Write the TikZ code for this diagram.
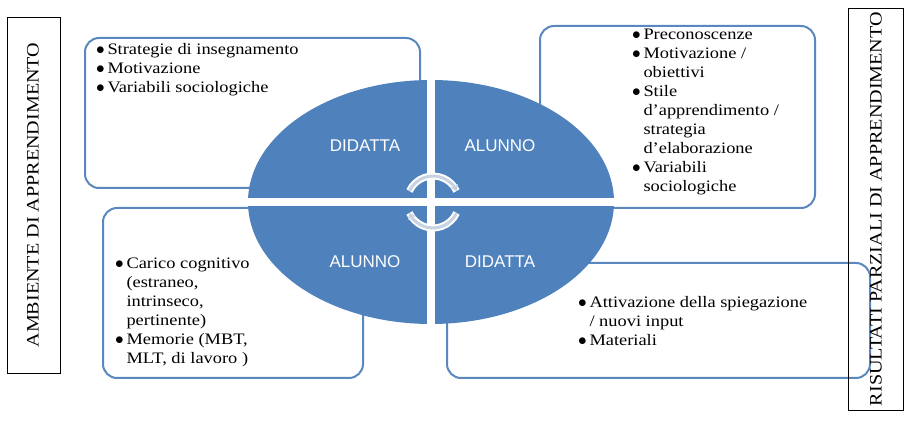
\documentclass[tikz,border=0pt]{standalone}
\usepackage{fontspec}
\setmainfont{Liberation Serif}[FakeStretch=1.15]
\newfontfamily\lab{Liberation Sans}
\usetikzlibrary{arrows.meta}
\definecolor{bl}{RGB}{79,129,189}
\definecolor{bd}{RGB}{90,135,190}
\begin{document}
\begin{tikzpicture}[x=1pt,y=-1pt,
  rbox/.style={draw=bd,line width=2pt,rounded corners=14pt,fill=white},
  txt/.style={anchor=north west,align=left,font=\fontsize{16}{19}\selectfont,inner sep=0pt},
  vlab/.style={rotate=90,font=\fontsize{17.5}{19}\selectfont},
  qlab/.style={text=white,font=\lab\fontsize{17}{19}\selectfont}]
\useasboundingbox (0,0) rectangle (919,430);
\draw[rbox] (85,38) rectangle (420,188);
\draw[rbox] (540,26) rectangle (815,208);
\draw[rbox] (103,208) rectangle (363,378);
\draw[rbox] (447,263) rectangle (870,378);
\draw[thin] (7,17) rectangle (60,373);
\node[vlab] (l) at (33,195) {AMBIENTE DI APPRENDIMENTO};
\draw[thin] (848,8) rectangle (903,410);
\node[vlab] (r) at (876,209) {RISULTATI PARZIALI DI APPRENDIMENTO};
\node[txt] (t1) at (96,43) {$\bullet$\,Strategie di insegnamento\\$\bullet$\,Motivazione\\$\bullet$\,Variabili sociologiche};
\node[txt] (t2) at (632,29) {$\bullet$\,Preconoscenze\\$\bullet$\,Motivazione /\\\phantom{$\bullet$\,}obiettivi\\$\bullet$\,Stile\\\phantom{$\bullet$\,}d'apprendimento /\\\phantom{$\bullet$\,}strategia\\\phantom{$\bullet$\,}d'elaborazione\\$\bullet$\,Variabili\\\phantom{$\bullet$\,}sociologiche};
\node[txt] (t3) at (115,258) {$\bullet$\,Carico cognitivo\\\phantom{$\bullet$\,}(estraneo,\\\phantom{$\bullet$\,}intrinseco,\\\phantom{$\bullet$\,}pertinente)\\$\bullet$\,Memorie (MBT,\\\phantom{$\bullet$\,}MLT, di lavoro )};
\node[txt] (t4) at (578,296) {$\bullet$\,Attivazione della spiegazione\\\phantom{$\bullet$\,}/ nuovi input\\$\bullet$\,Materiali};
\fill[bl] (431,202) ellipse [x radius=183,y radius=122];
\fill[white] (427,75) rectangle (435,330);
\fill[white] (240,198) rectangle (620,206);
\node[qlab] (q1) at (365,146) {DIDATTA};
\node[qlab] (q2) at (500,146) {ALUNNO};
\node[qlab] (q3) at (365,262) {ALUNNO};
\node[qlab] (q4) at (500,262) {DIDATTA};
\coordinate (c) at (433,202);
\draw[white,line width=7pt] ([shift={(205:26)}]c) arc[start angle=205,end angle=335,radius=26];
\draw[white,line width=7pt] ([shift={(25:26)}]c) arc[start angle=25,end angle=155,radius=26];
\draw[black!15!bl!30!white,line width=3pt,-{Stealth[length=6pt,width=9pt]}] ([shift={(205:26)}]c) arc[start angle=205,end angle=335,radius=26];
\draw[black!15!bl!30!white,line width=3pt,-{Stealth[length=6pt,width=9pt]}] ([shift={(25:26)}]c) arc[start angle=25,end angle=155,radius=26];
\end{tikzpicture}
\end{document}
